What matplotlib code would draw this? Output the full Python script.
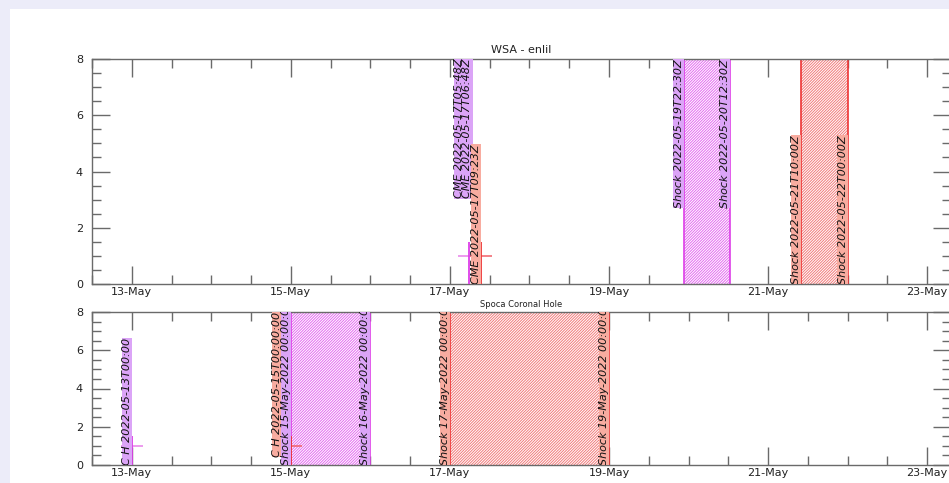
import matplotlib
matplotlib.use("Agg")
import matplotlib.pyplot as plt
import matplotlib.dates as mdates
import matplotlib.transforms as mtransforms
from matplotlib.patches import Rectangle
from matplotlib.ticker import MultipleLocator
from datetime import datetime, timedelta

# ---------------- data ----------------
# Top panel: WSA - enlil
wsa_title = "WSA - enlil"
wsa_cme_a_times = ["2022-05-17T05:48", "2022-05-17T06:48"]
wsa_cme_a_labels = ["CME 2022-05-17T05:48Z", "CME 2022-05-17T06:48Z"]
wsa_cme_b_times = ["2022-05-17T09:23"]
wsa_cme_b_labels = ["CME 2022-05-17T09:23Z"]
wsa_shock_a_span = ["2022-05-19T22:30", "2022-05-20T12:30"]
wsa_shock_a_labels = ["Shock 2022-05-19T22:30Z", "Shock 2022-05-20T12:30Z"]
wsa_shock_b_span = ["2022-05-21T10:00", "2022-05-22T00:00"]
wsa_shock_b_labels = ["Shock 2022-05-21T10:00Z", "Shock 2022-05-22T00:00Z"]
wsa_marker_a_times = ["2022-05-17T05:48"]
wsa_marker_b_times = ["2022-05-17T09:23"]

# Bottom panel: Spoca Coronal Hole
ch_title = "Spoca Coronal Hole"
ch_a_times = ["2022-05-13T00:00"]
ch_a_labels = ["C H 2022-05-13T00:00"]
ch_b_times = ["2022-05-15T00:00"]
ch_b_labels = ["C H 2022-05-15T00:00:00"]
ch_shock_a_span = ["2022-05-15T00:00", "2022-05-16T00:00"]
ch_shock_a_labels = ["Shock 15-May-2022 00:00:00", "Shock 16-May-2022 00:00:00"]
ch_shock_b_span = ["2022-05-17T00:00", "2022-05-19T00:00"]
ch_shock_b_labels = ["Shock 17-May-2022 00:00:00", "Shock 19-May-2022 00:00:00"]
ch_marker_a_times = ["2022-05-13T00:00"]
ch_marker_b_times = ["2022-05-15T00:00"]

marker_level = 1.0
marker_top = 1.5
y_max = 8
x_start = "2022-05-12T12:00"
x_end = "2022-05-23T07:12"

# ---------------- style ----------------
W, H, DPI = 949, 483, 100
PURPLE_BOX = "#dba4f7"
SALMON_BOX = "#f8aca0"
MAGENTA = "#dd3ee8"
RED = "#ee3535"
MAG_HATCH = "#e46af0"
RED_HATCH = "#f27a7a"
MAG_MARK = "#e880ea"
RED_MARK = "#f06068"
SPINE = "#6a6a6a"
TXT = "#222222"

plt.rcParams["hatch.linewidth"] = 0.7


def T(s):
    return datetime.fromisoformat(s)


fig = plt.figure(figsize=(W / DPI, H / DPI), dpi=DPI, facecolor="#ececf9")
fig.patches.append(Rectangle((10 / W, 0), 1, (H - 9) / H, transform=fig.transFigure,
                             facecolor="white", edgecolor="none", zorder=-10))


def px_axes(left, top, right, bottom):
    return fig.add_axes([left / W, (H - bottom) / H, (right - left) / W, (bottom - top) / H])


ax1 = px_axes(92, 59, 951, 284)
ax2 = px_axes(92, 312, 951, 465)

CROSS_HALF = timedelta(hours=3.3)


def style_axes(ax, title, title_size, title_pad):
    ax.set_facecolor("none")
    ax.set_xlim(T(x_start), T(x_end))
    ax.set_ylim(0, y_max)
    ax.xaxis.set_major_locator(mdates.DayLocator(bymonthday=[13, 15, 17, 19, 21, 23]))
    ax.xaxis.set_minor_locator(mdates.HourLocator(byhour=[0, 12]))
    ax.xaxis.set_major_formatter(mdates.DateFormatter("%d-%b"))
    ax.yaxis.set_major_locator(MultipleLocator(2))
    ax.yaxis.set_minor_locator(MultipleLocator(0.5))
    ax.tick_params(which="both", direction="in", top=True, right=True,
                   color=SPINE, width=1.0, labelsize=8, labelcolor=TXT)
    ax.tick_params(which="major", length=13)
    ax.tick_params(which="minor", length=6.5)
    ax.tick_params(axis="x", which="major", pad=2.5)
    ax.tick_params(axis="y", which="major", pad=6.5)
    for sp in ax.spines.values():
        sp.set_color(SPINE)
        sp.set_linewidth(1.0)
    ax.set_title(title, fontsize=title_size, color=TXT, pad=title_pad)


def label(ax, t, text, color, where, dx=0):
    trans = mtransforms.offset_copy(ax.transData, fig=fig, x=dx, y=0, units="dots")
    y = y_max if where == "top" else 0
    ax.text(T(t), y, text, rotation=90, ha="right", va=where, fontsize=8,
            style="italic", color="#111111", transform=trans, clip_on=True, zorder=5,
            bbox=dict(facecolor=color, edgecolor="none", pad=0.1))


def span(ax, a, b, color, hcolor):
    ax.axvspan(T(a), T(b), ymin=0, ymax=1, facecolor="white", edgecolor=hcolor,
               hatch="/" * 12, linewidth=0, zorder=2)
    ax.axvline(T(a), color=color, linewidth=1.2, zorder=2.5)
    ax.axvline(T(b), color=color, linewidth=1.2, zorder=2.5)


def markers(ax, times, color_h, color_v):
    for t in times:
        tt = T(t)
        ax.hlines(marker_level, tt - CROSS_HALF, tt + CROSS_HALF, color=color_h,
                  linewidth=1.1, zorder=3)
        ax.vlines(tt, 0, marker_top, color=color_v, linewidth=1.3, zorder=3)


# ---------------- top panel ----------------
style_axes(ax1, wsa_title, 8, 4)
span(ax1, wsa_shock_a_span[0], wsa_shock_a_span[1], MAGENTA, MAG_HATCH)
span(ax1, wsa_shock_b_span[0], wsa_shock_b_span[1], RED, RED_HATCH)
markers(ax1, wsa_marker_a_times, MAG_MARK, MAGENTA)
markers(ax1, wsa_marker_b_times, RED_MARK, RED)
cme_dx = [-5, 0]
for t, s, d in zip(wsa_cme_a_times, wsa_cme_a_labels, cme_dx):
    label(ax1, t, s, PURPLE_BOX, "top", d)
for t, s in zip(wsa_cme_b_times, wsa_cme_b_labels):
    label(ax1, t, s, SALMON_BOX, "bottom")
for t, s in zip(wsa_shock_a_span, wsa_shock_a_labels):
    label(ax1, t, s, PURPLE_BOX, "top")
for t, s in zip(wsa_shock_b_span, wsa_shock_b_labels):
    label(ax1, t, s, SALMON_BOX, "bottom")

# ---------------- bottom panel ----------------
style_axes(ax2, ch_title, 6, 3.5)
span(ax2, ch_shock_a_span[0], ch_shock_a_span[1], MAGENTA, MAG_HATCH)
span(ax2, ch_shock_b_span[0], ch_shock_b_span[1], RED, RED_HATCH)
markers(ax2, ch_marker_a_times, MAG_MARK, MAGENTA)
markers(ax2, ch_marker_b_times, RED_MARK, RED)
for t, s in zip(ch_a_times, ch_a_labels):
    label(ax2, t, s, PURPLE_BOX, "bottom")
for t, s in zip(ch_b_times, ch_b_labels):
    label(ax2, t, s, SALMON_BOX, "top", -9)
for t, s in zip(ch_shock_a_span, ch_shock_a_labels):
    label(ax2, t, s, PURPLE_BOX, "bottom")
for t, s in zip(ch_shock_b_span, ch_shock_b_labels):
    label(ax2, t, s, SALMON_BOX, "bottom")

fig.savefig("out.png", dpi=DPI, facecolor=fig.get_facecolor())
